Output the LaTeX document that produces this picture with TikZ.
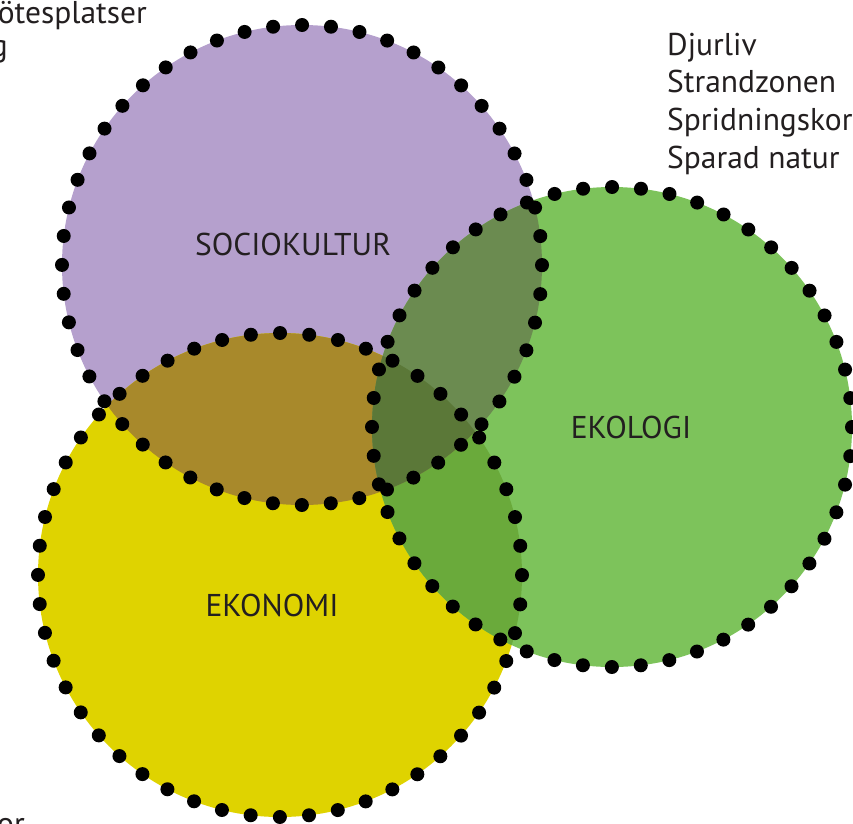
\documentclass[tikz,border=0pt]{standalone}
\usepackage{fontspec}
\setmainfont{PT Sans}
\definecolor{purpleC}{HTML}{B5A0CD}
\definecolor{yellowC}{HTML}{DFD300}
\definecolor{greenC}{HTML}{7DC35B}
\definecolor{pyC}{HTML}{A8892B}
\definecolor{pgC}{HTML}{6B8B50}
\definecolor{ygC}{HTML}{6AAA3B}
\definecolor{pygC}{HTML}{5B7838}
\definecolor{txtC}{HTML}{231F20}
\tikzset{
  lbl/.style={text=txtC, font=\fontsize{31.5}{38}\selectfont, inner sep=0pt},
  dotring/.style={draw=black, line width=14pt, line cap=round, dash pattern=on 0pt off #1},
}
\begin{document}
\begin{tikzpicture}[x=1pt,y=-1pt]
\useasboundingbox (0,0) rectangle (853,823);
\clip (0,0) rectangle (853,823);
\coordinate (P) at (302,265);
\coordinate (Y) at (280,575);
\coordinate (G) at (612,427);
% base fills
\fill[purpleC] (P) circle[radius=240pt];
\fill[yellowC] (Y) circle[radius=242pt];
\fill[greenC] (G) circle[radius=240pt];
% overlaps
\begin{scope}
  \clip (Y) circle[radius=242pt];
  \fill[ygC] (G) circle[radius=240pt];
\end{scope}
\begin{scope}
  \clip (P) circle[radius=240pt];
  \fill[pyC] (Y) circle[radius=242pt];
  \fill[pgC] (G) circle[radius=240pt];
  \begin{scope}
    \clip (Y) circle[radius=242pt];
    \fill[pygC] (G) circle[radius=240pt];
  \end{scope}
\end{scope}
% dotted outlines
\draw[dotring=28.999pt] (P) circle[radius=240pt];
\draw[dotring=29.241pt] (Y) circle[radius=242pt];
\draw[dotring=28.999pt] (G) circle[radius=240pt];
% labels
\node[lbl, anchor=base] (soc) at (293,255) {SOCIOKULTUR};
\node[lbl, anchor=base] (eko) at (631,438) {EKOLOGI};
\node[lbl, anchor=base] (ekn) at (272,616) {EKONOMI};
% right list
\node[lbl, anchor=base west] (r1) at (667,55) {Djurliv};
\node[lbl, anchor=base west] (r2) at (667,92) {Strandzonen};
\node[lbl, anchor=base west] (r3) at (667,130) {Spridningskor};
\node[lbl, anchor=base west] (r4) at (667,168) {Sparad natur};
% partial texts at edges
\node[lbl, anchor=base east] (tl1) at (147,23) {mötesplatser};
\node[lbl, anchor=base east] (tl2) at (8,56) {g};
\node[lbl, anchor=base east] (bl1) at (25,834) {or};
\end{tikzpicture}
\end{document}
